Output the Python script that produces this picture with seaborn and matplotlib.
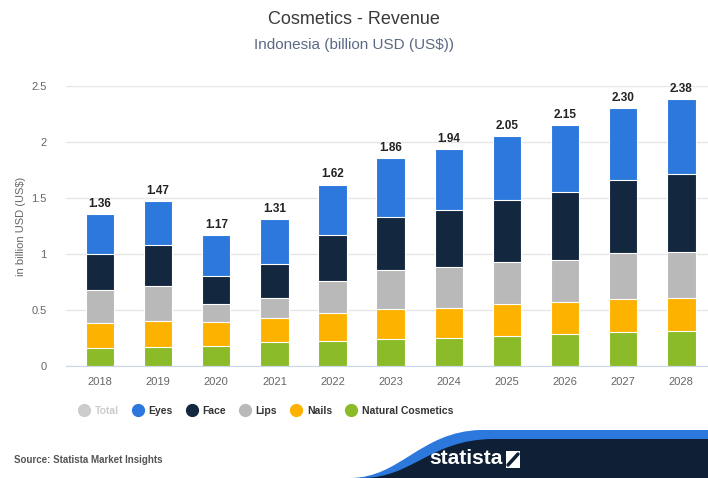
import matplotlib
matplotlib.use("Agg")
import matplotlib.pyplot as plt
import seaborn as sns
import pandas as pd
from matplotlib.lines import Line2D
from matplotlib.path import Path
from matplotlib.patches import PathPatch, Rectangle

# dados (bilhoes de USD)
years = ["2018", "2019", "2020", "2021", "2022", "2023", "2024", "2025", "2026", "2027", "2028"]
natural = [0.16, 0.17, 0.18, 0.21, 0.22, 0.24, 0.25, 0.27, 0.29, 0.30, 0.31]
nails = [0.22, 0.23, 0.21, 0.22, 0.25, 0.27, 0.27, 0.28, 0.28, 0.30, 0.30]
lips = [0.30, 0.31, 0.16, 0.18, 0.29, 0.35, 0.36, 0.38, 0.38, 0.41, 0.41]
face = [0.32, 0.37, 0.25, 0.30, 0.41, 0.47, 0.51, 0.55, 0.60, 0.65, 0.69]
eyes = [0.36, 0.39, 0.37, 0.40, 0.45, 0.53, 0.55, 0.57, 0.60, 0.64, 0.67]
totals = [1.36, 1.47, 1.17, 1.31, 1.62, 1.86, 1.94, 2.05, 2.15, 2.30, 2.38]

segments = ["Natural Cosmetics", "Nails", "Lips", "Face", "Eyes"]
colors = {"Natural Cosmetics": "#8bbb28", "Nails": "#feb200", "Lips": "#b9b9b9",
          "Face": "#13273f", "Eyes": "#2c78dc"}

df = pd.DataFrame({"year": years, "Natural Cosmetics": natural, "Nails": nails,
                   "Lips": lips, "Face": face, "Eyes": eyes})

# somas acumuladas para empilhar
cum = df[segments].cumsum(axis=1)

sns.set_style("white")
plt.rcParams["font.family"] = ["Liberation Sans", "DejaVu Sans"]

fig = plt.figure(figsize=(7.08, 4.78), dpi=100)
ax = fig.add_axes([66 / 708, 1 - 366 / 478, (708 - 66) / 708, 280 / 478])

# desenha do topo para baixo, cada camada sobre a anterior
for seg in reversed(segments):
    sns.barplot(x=df["year"], y=cum[seg], color=colors[seg], width=0.49,
                edgecolor="white", linewidth=0.8, saturation=1, ax=ax)

for i, t in enumerate(totals):
    ax.annotate(f"{t:.2f}", (i, t), xytext=(0, 3), textcoords="offset points",
                ha="center", va="bottom", fontsize=8.5, fontweight="bold", color="#222222")

ax.set_ylim(0, 2.5)
ax.set_xlim(-0.585, 10.46)
ax.set_yticks([0, 0.5, 1, 1.5, 2, 2.5])
ax.set_yticklabels(["0", "0.5", "1", "1.5", "2", "2.5"])
ax.yaxis.grid(True, color="#e6e6e6", linewidth=1)
ax.set_axisbelow(True)
for s in ["top", "right", "left"]:
    ax.spines[s].set_visible(False)
ax.spines["bottom"].set_color("#ccd6eb")
ax.tick_params(axis="y", length=0, pad=14, labelsize=8, labelcolor="#666666")
ax.tick_params(axis="x", length=5, color="#ccd6eb", pad=3, labelsize=8, labelcolor="#666666")
ax.set_xlabel("")
ax.set_ylabel("in billion USD (US$)", fontsize=8, color="#666666", labelpad=4)

fig.text(0.5, 1 - 19 / 478, "Cosmetics - Revenue", ha="center", va="center",
         fontsize=13, color="#3a3a3a")
fig.text(0.5, 1 - 45 / 478, "Indonesia (billion USD (US$))", ha="center", va="center",
         fontsize=11, color="#5a6a85")

# legenda
leg_labels = ["Total", "Eyes", "Face", "Lips", "Nails", "Natural Cosmetics"]
leg_colors = ["#cccccc", colors["Eyes"], colors["Face"], colors["Lips"], colors["Nails"],
              colors["Natural Cosmetics"]]
handles = [Line2D([], [], marker="o", linestyle="", markersize=8.5, markerfacecolor=c,
                  markeredgecolor=c) for c in leg_colors]
leg = fig.legend(handles, leg_labels, loc="center", bbox_to_anchor=(266 / 708, 1 - 411 / 478),
                 ncol=6, frameon=False, handlelength=1.0, handletextpad=0.5,
                 columnspacing=1.35, prop={"size": 7.5, "weight": "bold"})
for txt, c in zip(leg.get_texts(), ["#cccccc"] + ["#333333"] * 5):
    txt.set_color(c)

fig.text(14 / 708, 1 - 460 / 478, "Source: Statista Market Insights", ha="left", va="center",
         fontsize=7, fontweight="bold", color="#555555")

# logotipo statista (forma decorativa)
def px(x, y):
    return (x / 708, 1 - y / 478)

blue = Path([px(350, 478), px(400, 478), px(420, 432), px(480, 430), px(708, 430),
             px(708, 478), px(350, 478)],
            [Path.MOVETO, Path.CURVE4, Path.CURVE4, Path.CURVE4, Path.LINETO,
             Path.LINETO, Path.CLOSEPOLY])
fig.patches.append(PathPatch(blue, facecolor="#2c78dc", edgecolor="none",
                             transform=fig.transFigure))
navy = Path([px(362, 478), px(412, 478), px(430, 440), px(492, 439), px(708, 439),
             px(708, 478), px(362, 478)],
            [Path.MOVETO, Path.CURVE4, Path.CURVE4, Path.CURVE4, Path.LINETO,
             Path.LINETO, Path.CLOSEPOLY])
fig.patches.append(PathPatch(navy, facecolor="#0f1f35", edgecolor="none",
                             transform=fig.transFigure))
fig.text(503 / 708, 1 - 459 / 478, "statista", ha="right", va="center", fontsize=15,
         fontweight="bold", color="white")
fig.patches.append(Rectangle(px(506, 468), 14 / 708, 17 / 478, facecolor="white",
                             edgecolor="none", transform=fig.transFigure))
fig.lines.append(Line2D([508 / 708, 518 / 708], [1 - 465 / 478, 1 - 454 / 478],
                        color="#0f1f35", linewidth=2.5, transform=fig.transFigure))

fig.savefig("out.png", dpi=100)
